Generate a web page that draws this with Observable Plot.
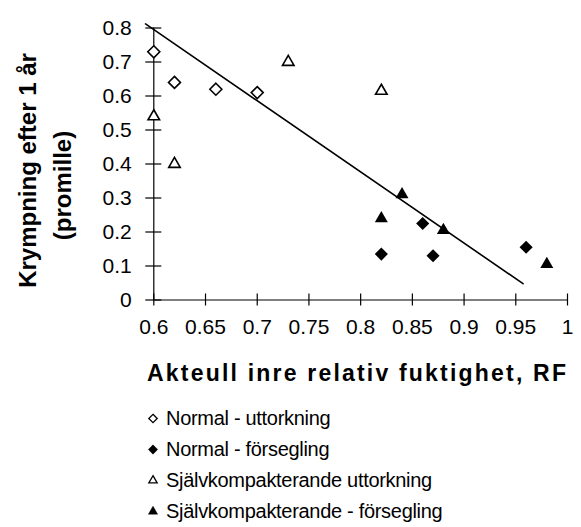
<!DOCTYPE html>
<html>
<head>
<meta charset="utf-8">
<script src="https://cdn.jsdelivr.net/npm/d3@7"></script>
<script src="https://cdn.jsdelivr.net/npm/@observablehq/plot@0.6"></script>
<style>
  body { margin: 0; background: #fff; }
  #wrap { position: relative; width: 581px; height: 527px; font-family: "Liberation Sans", Arial, sans-serif; color: #000; }
  #title { position: absolute; left: 147px; top: 359px; font-size: 23px; font-weight: bold; letter-spacing: 2.2px; white-space: nowrap; line-height: 28px; }
  .leg { position: absolute; left: 146px; font-size: 20px; white-space: nowrap; line-height: 24px; display: flex; align-items: center; letter-spacing: -0.3px; }
  .leg svg { margin-right: 6px; }
</style>
</head>
<body>
<div id="wrap"></div>
<script>
// Data
const xTicks = [0.6, 0.65, 0.7, 0.75, 0.8, 0.85, 0.9, 0.95, 1];
const yTicks = [0, 0.1, 0.2, 0.3, 0.4, 0.5, 0.6, 0.7, 0.8];

const normUttX = [0.60, 0.62, 0.66, 0.70];
const normUttY = [0.73, 0.64, 0.62, 0.61];
const normForsX = [0.82, 0.86, 0.87, 0.96];
const normForsY = [0.135, 0.225, 0.13, 0.155];
const sjUttX = [0.60, 0.62, 0.73, 0.82];
const sjUttY = [0.54, 0.40, 0.70, 0.615];
const sjForsX = [0.82, 0.84, 0.88, 0.98];
const sjForsY = [0.24, 0.31, 0.205, 0.105];

const trendX = [0.592, 0.957];
const trendY = [0.812, 0.048];

const seriesNames = ["Normal - uttorkning", "Normal - försegling", "Självkompakterande uttorkning", "Självkompakterande - försegling"];
const xTitle = "Akteull inre relativ fuktighet, RF";
const yTitle1 = "Krympning efter 1 år";
const yTitle2 = "(promille)";

const pts = (xs, ys) => xs.map((x, i) => ({x, y: ys[i]}));
const trend = pts(trendX, trendY);

const chart = Plot.plot({
  width: 581,
  height: 345,
  marginLeft: 153.3,
  marginRight: 14,
  marginTop: 27.5,
  marginBottom: 45.5,
  style: { fontFamily: "Liberation Sans, Arial, sans-serif", fontSize: "21px", color: "#000", background: "#fff" },
  x: { domain: [0.6, 1] },
  y: { domain: [0, 0.8] },
  marks: [
    Plot.ruleX([0.6], { stroke: "#000", strokeWidth: 1.2 }),
    Plot.ruleY([0], { stroke: "#000", strokeWidth: 1.2 }),
    Plot.ruleX(xTicks, { x: d => d, y1: 0, y2: 0, insetTop: -6, insetBottom: -6, stroke: "#000", strokeWidth: 1.2 }),
    Plot.ruleY(yTicks, { y: d => d, x1: 0.6, x2: 0.6, insetLeft: -8, insetRight: -8, stroke: "#000", strokeWidth: 1.2 }),
    Plot.axisX(xTicks, { anchor: "bottom", tickSize: 0, tickPadding: 19, tickFormat: d => String(d), label: null, fill: "#000" }),
    Plot.axisY(yTicks, { anchor: "left", tickSize: 0, tickPadding: 22, tickFormat: d => String(d), label: null, fill: "#000" }),
    Plot.text([yTitle1], { frameAnchor: "left", textAnchor: "middle", lineAnchor: "middle", rotate: -90, dx: -125, dy: 6.5, fontSize: 24, fontWeight: "bold", letterSpacing: 1.6, fill: "#000", text: d => d }),
    Plot.text([yTitle2], { frameAnchor: "left", textAnchor: "middle", lineAnchor: "middle", rotate: -90, dx: -90, dy: 21.5, fontSize: 24, fontWeight: "bold", fill: "#000", text: d => d }),
    Plot.line(trend, { x: "x", y: "y", stroke: "#000", strokeWidth: 1.6 }),
    Plot.dot(pts(normUttX, normUttY), { x: "x", y: "y", symbol: "diamond2", r: 5.4, fill: "#fff", stroke: "#000", strokeWidth: 1.6 }),
    Plot.dot(pts(sjUttX, sjUttY), { x: "x", y: "y", symbol: "triangle2", r: 5.5, fill: "#fff", stroke: "#000", strokeWidth: 1.6 }),
    Plot.dot(pts(normForsX, normForsY), { x: "x", y: "y", symbol: "diamond2", r: 5.9, fill: "#000", stroke: "none" }),
    Plot.dot(pts(sjForsX, sjForsY), { x: "x", y: "y", symbol: "triangle2", r: 6.2, fill: "#000", stroke: "none" })
  ]
});

const wrap = document.getElementById("wrap");
wrap.appendChild(chart);

const title = document.createElement("div");
title.id = "title";
title.textContent = xTitle;
wrap.appendChild(title);

const legSymbols = [
  { type: d3.symbolDiamond2, fill: "#fff", size: 45 },
  { type: d3.symbolDiamond2, fill: "#000", size: 55 },
  { type: d3.symbolTriangle2, fill: "#fff", size: 50 },
  { type: d3.symbolTriangle2, fill: "#000", size: 60 }
];
const legY = [418, 449, 480, 511];
seriesNames.forEach((name, i) => {
  const row = document.createElement("div");
  row.className = "leg";
  row.style.top = (legY[i] - 12) + "px";
  const s = d3.create("svg").attr("width", 14).attr("height", 14);
  s.append("path")
    .attr("transform", "translate(7,7.5)")
    .attr("d", d3.symbol(legSymbols[i].type, legSymbols[i].size)())
    .attr("fill", legSymbols[i].fill)
    .attr("stroke", "#000")
    .attr("stroke-width", legSymbols[i].fill === "#fff" ? 1.3 : 0.5);
  row.appendChild(s.node());
  const t = document.createElement("span");
  t.textContent = name;
  row.appendChild(t);
  wrap.appendChild(row);
});
</script>
</body>
</html>
